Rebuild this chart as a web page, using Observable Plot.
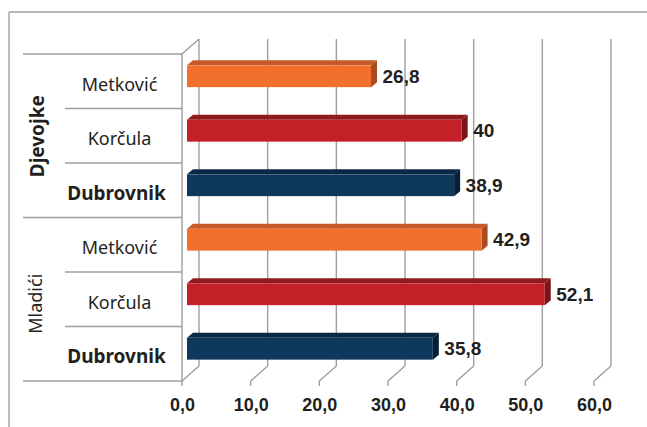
<!DOCTYPE html>
<html>
<head>
<meta charset="utf-8">
<script src="https://cdn.jsdelivr.net/npm/d3@7"></script>
<script src="https://cdn.jsdelivr.net/npm/@observablehq/plot@0.6"></script>
<style>
  html, body { margin: 0; padding: 0; background: #fff; }
  #chart svg { display: block; }
</style>
</head>
<body>
<div id="chart"></div>
<script>
// ---- data ----
const groups = ["Djevojke", "Mladići"];
const towns = ["Metković", "Korčula", "Dubrovnik"];
const djevojke = [26.8, 40, 38.9];
const mladici = [42.9, 52.1, 35.8];
const xTicks = [0, 10, 20, 30, 40, 50, 60];
const valueLabels = [["26,8", "40", "38,9"], ["42,9", "52,1", "35,8"]];

// colours per town: front, top, side
const frontColors = ["#f2702b", "#c32027", "#0f395c"];
const topColors = ["#c75a27", "#921a1f", "#0a2945"];
const sideColors = ["#a94b20", "#7a1418", "#061f37"];

const rows = groups.flatMap((g, gi) =>
  towns.map((t, ti) => ({
    group: g, town: t, ti,
    value: (gi === 0 ? djevojke : mladici)[ti],
    label: valueLabels[gi][ti],
    pos: 6 - (gi * 3 + ti) - 0.5
  }))
);
const groupRows = groups.map((g, gi) => ({ group: g, pos: 6 - gi * 3 - 1.5 }));

const W = 647, H = 427;
const grid = "#9e9e9e";
const catFont = "'Noto Sans', 'Open Sans', sans-serif";
const numFont = "'Liberation Sans', Arial, sans-serif";
const DX = 17, DY = -15;       // depth of the 3D box
const BX = 5, BY = -5;         // bar offset into depth
const BDX = 6, BDY = -5;       // bar depth

// walls, gridlines, ticks and category separators
function walls(index, scales) {
  const x = scales.x, y = scales.y;
  const g = d3.create("svg:g").attr("fill", "none").attr("stroke", grid).attr("stroke-width", 1.4);
  const x0 = x(0), yb = y(0), yt = y(6);
  const line = (a, b, c, d) => g.append("line").attr("x1", a).attr("y1", b).attr("x2", c).attr("y2", d);
  // frame
  line(9, 12, W, 12);
  line(9, 12, 9, H);
  // left wall
  line(x0, yb, x0, yt);
  line(x0, yt, x0 + DX, yt + DY);
  for (const t of xTicks) {
    const xt = x(t);
    line(xt, yb, xt + DX, yb + DY);
    line(xt + DX, yb + DY, xt + DX, yt + DY);
    line(xt, yb, xt, yb + 5);
  }
  // category separators
  for (let i = 0; i <= 6; i++) {
    const left = (i % 3 === 0) ? 23 : 65;
    line(left, y(i), x0, y(i));
  }
  return g.node();
}

// top and side faces of bars
function barFaces(index, scales) {
  const x = scales.x, y = scales.y;
  const g = d3.create("svg:g");
  for (const d of rows) {
    const xa = x(0) + BX, xb = x(d.value) + BX;
    const yc = y(d.pos) + BY;
    const yt = yc - 11, ybm = yc + 11;
    g.append("polygon")
      .attr("points", [[xa, yt], [xb, yt], [xb + BDX, yt + BDY], [xa + BDX, yt + BDY]].join(" "))
      .attr("fill", topColors[d.ti]);
    g.append("polygon")
      .attr("points", [[xb, yt], [xb + BDX, yt + BDY], [xb + BDX, ybm + BDY], [xb, ybm]].join(" "))
      .attr("fill", sideColors[d.ti]);
  }
  return g.node();
}

const chart = Plot.plot({
  width: W,
  height: H,
  marginLeft: 182,
  marginRight: 53,
  marginTop: 54,
  marginBottom: 46,
  x: { domain: [0, 60], axis: null },
  y: { domain: [0, 6], axis: null },
  color: { domain: towns, range: frontColors },
  marks: [
    walls,
    barFaces,
    Plot.rectX(rows, {
      x1: 0, x2: "value",
      y1: d => d.pos - 0.2, y2: d => d.pos + 0.2,
      fill: "town", dx: BX, dy: BY
    }),
    // value labels
    Plot.text(rows, {
      x: "value", y: "pos", text: "label",
      dx: BX + BDX + 5, dy: BY, textAnchor: "start",
      fontFamily: numFont, fontWeight: "bold", fontSize: 19, fill: "#231f20"
    }),
    // category labels
    Plot.text(rows.filter(d => d.town !== "Dubrovnik"), {
      y: "pos", text: "town", frameAnchor: "left", dx: -63, dy: 3, textAnchor: "middle",
      fontFamily: catFont, fontSize: 18, fill: "#231f20"
    }),
    Plot.text(rows.filter(d => d.town === "Dubrovnik"), {
      y: "pos", text: "town", frameAnchor: "left", dx: -66, dy: 3, textAnchor: "middle",
      fontFamily: catFont, fontWeight: "bold", fontSize: 19, fill: "#231f20"
    }),
    // group labels
    Plot.text(groupRows.slice(0, 1), {
      y: "pos", text: "group", frameAnchor: "left", dx: -145, rotate: -90, textAnchor: "middle",
      fontFamily: catFont, fontWeight: "bold", fontSize: 19, fill: "#231f20"
    }),
    Plot.text(groupRows.slice(1), {
      y: "pos", text: "group", frameAnchor: "left", dx: -146, dy: 4, rotate: -90, textAnchor: "middle",
      fontFamily: catFont, fontSize: 18, fill: "#231f20"
    }),
    // x tick labels
    Plot.text(xTicks, {
      x: d => d, y: () => 0, text: d => d.toFixed(1).replace(".", ","), dy: 24,
      fontFamily: numFont, fontWeight: "bold", fontSize: 18, fill: "#231f20"
    })
  ]
});
document.getElementById("chart").append(chart);
</script>
</body>
</html>
